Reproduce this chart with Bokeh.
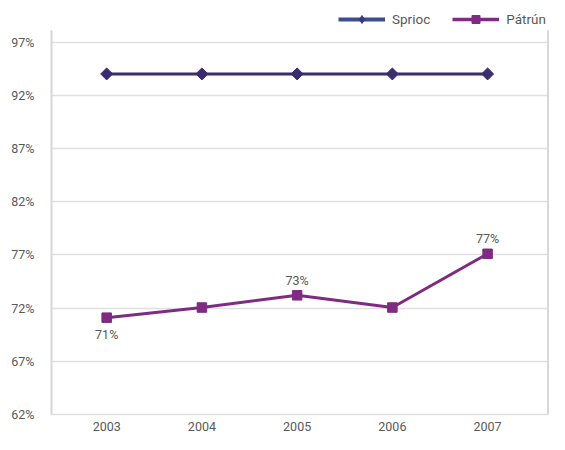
from bokeh.plotting import figure
from bokeh.models import (ColumnDataSource, FixedTicker, PrintfTickFormatter, Legend,
                          LegendItem, Range1d)
from bokeh.core.properties import value
from bokeh.embed import file_html
from bokeh.resources import INLINE
import math

years = [2003, 2004, 2005, 2006, 2007]
sprioc = [94, 94, 94, 94, 94]
patrun = [71.1, 72.05, 73.2, 72.05, 77.1]
label_idx = [0, 2, 4]
label_pos = ["below", "above", "above"]
y_ticks = [62, 67, 72, 77, 82, 87, 92, 97]

FONT = "Roboto"
TXT = "#595959"
C_SPRIOC = "#3a2d6e"
C_SPRIOC_LEG = "#3d4d8f"
C_PATRUN = "#7f2b82"
FRAME_C = "#d6d6d6"

X0, X1 = 2002.41, 2007.65
Y0, YTOPLINE, Y1 = 62, 98.1, 100.9

p = figure(width=549, height=434, output_backend="svg", toolbar_location=None,
           x_range=Range1d(X0, X1), y_range=Range1d(Y0, Y1),
           min_border_left=50, min_border_right=0, min_border_top=0, min_border_bottom=20)
p.outline_line_color = None
p.background_fill_color = "white"
p.border_fill_color = "white"

# axes
p.xaxis.ticker = FixedTicker(ticks=years)
p.yaxis.ticker = FixedTicker(ticks=y_ticks)
p.yaxis.formatter = PrintfTickFormatter(format="%d%%")
for ax in (p.xaxis, p.yaxis):
    ax.major_tick_line_color = None
    ax.minor_tick_line_color = None
    ax.major_label_text_font = FONT
    ax.major_label_text_font_size = "12.5px"
    ax.major_label_text_color = TXT
p.yaxis.axis_line_color = None
p.yaxis.major_label_standoff = 10
p.xaxis.axis_line_color = "#e0e0e0"
p.xaxis.axis_line_width = 1.5
p.xaxis.major_label_standoff = 1
p.xgrid.grid_line_color = None
p.ygrid.grid_line_color = "#e0e0e0"
p.ygrid.grid_line_width = 1.5

# left and right frame lines (from bottom up to just above the top gridline)
p.segment(x0=[X0 + 0.008, X1 - 0.012], y0=[Y0, Y0], x1=[X0 + 0.008, X1 - 0.012],
          y1=[YTOPLINE, YTOPLINE], line_color=FRAME_C, line_width=2.5)

src_s = ColumnDataSource(dict(x=years, y=sprioc))
src_p = ColumnDataSource(dict(x=years, y=patrun))

p.line("x", "y", source=src_s, line_color=C_SPRIOC, line_width=3)
p.scatter("x", "y", source=src_s, marker="square", angle=math.pi / 4, size=8.5,
          fill_color=C_SPRIOC, line_color=C_SPRIOC)
p.line("x", "y", source=src_p, line_color=C_PATRUN, line_width=3)
p.scatter("x", "y", source=src_p, marker="square", size=9.5,
          fill_color=C_PATRUN, line_color=C_PATRUN)

# data labels
for i, pos in zip(label_idx, label_pos):
    p.text(x=[years[i]], y=[patrun[i]], text=[f"{round(patrun[i])}%"],
           text_font=value(FONT), text_font_size="12.5px", text_color=TXT,
           text_align="center", text_baseline="middle",
           y_offset=(17 if pos == "below" else -15))

# legend-only renderers (a single NaN point: nothing drawn in the plot)
dummy = ColumnDataSource(dict(x=[years[0]], y=[float("nan")]))
ls = p.line("x", "y", source=dummy, line_color=C_SPRIOC_LEG, line_width=4)
ms = p.scatter("x", "y", source=dummy, marker="diamond", size=13,
               fill_color="#3a3a80", line_color="#3a3a80")
lp = p.line("x", "y", source=dummy, line_color=C_PATRUN, line_width=3.5)
mp = p.scatter("x", "y", source=dummy, marker="square", size=10,
               fill_color=C_PATRUN, line_color=C_PATRUN)
legend = Legend(items=[LegendItem(label="Sprioc", renderers=[ls, ms]),
                       LegendItem(label="Pátrún", renderers=[lp, mp])],
                orientation="horizontal", location=(288, 385),
                glyph_width=47, glyph_height=20, label_standoff=7, spacing=22,
                padding=0, margin=0, border_line_color=None,
                background_fill_alpha=0,
                label_text_font=FONT, label_text_font_size="13.5px",
                label_text_color=TXT)
p.add_layout(legend, "center")

open("out.html", "w").write(file_html(p, INLINE))
